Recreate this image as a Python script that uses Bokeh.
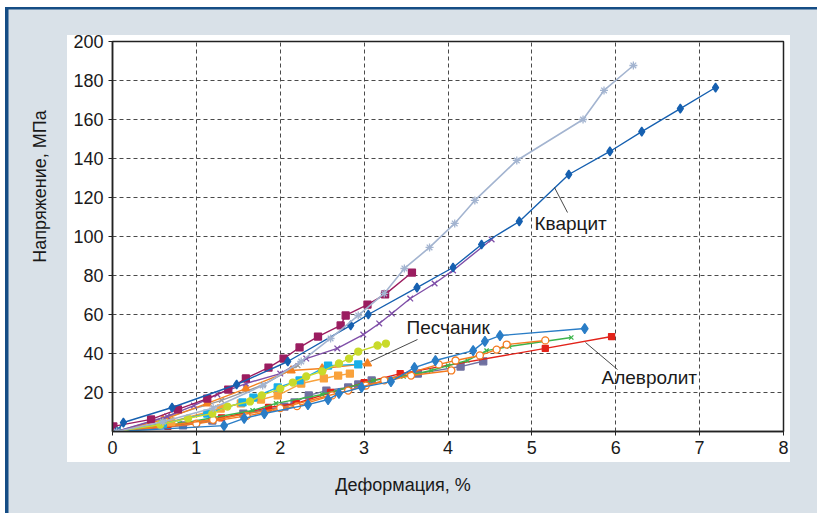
from bokeh.plotting import figure
from bokeh.models import Range1d, FixedTicker, Label
from bokeh.embed import file_html
from bokeh.resources import INLINE

# ---------------- data ----------------
x_ticks = [0, 1, 2, 3, 4, 5, 6, 7, 8]
y_ticks = [20, 40, 60, 80, 100, 120, 140, 160, 180, 200]

# Кварцит (light, asterisks)
kv1_x = [0.05, 0.6, 1.2, 1.79, 2.25, 2.60, 2.93, 3.24, 3.48, 3.78, 4.08, 4.32, 4.82, 5.61, 5.86, 6.21]
kv1_y = [0, 5, 12, 23.6, 35.9, 47.7, 59.5, 70.8, 83.6, 94.4, 106.7, 118.5, 139, 160, 174.9, 187.7]
# Кварцит (dark blue, diamonds)
kv2_x = [0.05, 0.13, 0.71, 1.48, 2.09, 2.84, 3.05, 3.63, 4.06, 4.40, 4.85, 5.44, 5.93, 6.31, 6.77, 7.19]
kv2_y = [0, 4.6, 12.3, 24.1, 35.9, 54.4, 60.0, 73.8, 84.1, 95.9, 107.7, 131.8, 143.6, 153.8, 165.6, 176.4]
# magenta squares
mg_x = [0.01, 0.46, 0.78, 1.13, 1.38, 1.59, 1.86, 2.04, 2.23, 2.45, 2.72, 2.78, 3.04, 3.25, 3.57]
mg_y = [2.6, 6.2, 11.3, 16.9, 21.5, 27.2, 32.8, 37.4, 43.1, 48.7, 54.4, 59.5, 65.1, 70.3, 81.5]
# purple x
pu_x = [0.05, 0.65, 0.97, 1.25, 1.59, 2.0, 2.31, 2.68, 2.99, 3.18, 3.33, 3.55, 3.84, 4.06, 4.52]
pu_y = [0, 7.7, 13.3, 19.0, 24.6, 29.7, 37.4, 42.6, 49.7, 55.4, 60.5, 68.2, 75.9, 82.6, 98.5]
# yellow-green circles
yl_x = [0.05, 0.57, 0.90, 1.19, 1.37, 1.64, 1.78, 2.0, 2.15, 2.31, 2.50, 2.70, 2.82, 2.93, 3.16, 3.26]
yl_y = [0, 3.6, 6.7, 9.2, 12.8, 15.4, 18.5, 22, 25.1, 28.2, 30.8, 34.9, 37.4, 41.0, 44.1, 45.1]
# cyan squares
cy_x = [0.05, 0.6, 1.13, 1.55, 1.68, 1.97, 2.23, 2.57, 2.93]
cy_y = [0, 4, 9.2, 14.9, 17.4, 22.6, 26.2, 33.8, 34.4]
# light orange squares
lo_x = [0.05, 0.7, 1.29, 1.53, 1.77, 1.97, 2.25, 2.52, 2.69, 2.83]
lo_y = [0, 5, 11.8, 14.4, 16.4, 18.5, 24.6, 27.2, 28.7, 29.7]
# orange triangles
ot_x = [0.05, 0.6, 1.13, 1.59, 2.13, 2.5, 3.04]
ot_y = [0, 6, 14.4, 22, 31.3, 32.3, 34.9]
# grey x
gr_x = [0.05, 0.7, 1.3, 1.8, 2.21]
gr_y = [0, 8, 16, 24, 33.8]
# Алевролит group
bl_x = [0.05, 1.33, 1.57, 1.81, 2.33, 2.57, 2.70, 2.97, 3.32, 3.60, 3.85, 4.30, 4.44, 4.62, 5.63]
bl_y = [0, 3.0, 6.7, 9.2, 13.8, 16.4, 19.5, 22.6, 25.6, 32.8, 36.4, 41.5, 46.2, 49.2, 52.8]
oa_x = [0.05, 1.0, 1.6, 2.2, 2.62, 3.02, 3.56, 4.04]
oa_y = [0, 4, 8, 13, 18.5, 23.6, 28.7, 31.3]
ob_x = [0.05, 1.2, 2.0, 2.81, 3.24, 3.89, 4.09, 4.38, 4.58, 4.70, 5.16]
ob_y = [0, 6, 12, 21, 26.2, 34.4, 36.4, 39, 42, 44.6, 46.7]
gn_x = [0.05, 0.8, 1.67, 1.95, 2.5, 3.11, 3.47, 3.80, 4.0, 4.23, 4.46, 4.73, 5.47]
gn_y = [0, 4, 10.8, 14.4, 19, 26.2, 28.2, 31.3, 33.8, 36.4, 41.5, 43.6, 48.2]
rd_x = [0.05, 0.66, 1.3, 1.86, 2.19, 2.60, 3.0, 3.43, 5.16, 5.95]
rd_y = [0, 2.6, 7, 12.3, 14.4, 20, 25, 29.7, 42.6, 48.7]
sl_x = [0.05, 0.84, 1.19, 1.56, 2.05, 2.17, 2.34, 2.55, 2.81, 2.93, 3.09, 3.64, 4.15, 4.42]
sl_y = [0, 3.1, 5.6, 9.2, 12.8, 14.9, 18.5, 21, 22.6, 24.1, 26.2, 29.7, 33.3, 36]

labels_text = ["Кварцит", "Песчаник", "Алевролит"]
x_title = "Деформация, %"
y_title = "Напряжение, МПа"

# ---------------- layout ----------------
W, H = 817, 513
FL, FT, FW, FH = 112, 41, 671, 390
X0, X1, Y0, Y1 = 0, 8, 0, 200
BG = "#d9e1e8"
BORDER = "#154d85"
FONT = "Liberation Sans"
TXT = "#1a1a1a"


def dx(px):  # canvas pixel -> data x
    return X0 + (px - FL) / FW * (X1 - X0)


def dy(py):  # canvas pixel -> data y
    return Y0 + (FT + FH - py) / FH * (Y1 - Y0)


def layer(x, y, w, h, c):
    return f"linear-gradient({c},{c}) {x}px {y}px / {w}px {h}px no-repeat"


panel_css = ", ".join([
    layer(67, 35, 723, 427, "white"),
    layer(5, 7, 3.5, H, BORDER),
    layer(5, 7, W, 2.5, BORDER),
    layer(5, 7, W, H, BG),
]) + ", white"

p = figure(width=W, height=H, output_backend="svg", toolbar_location=None,
           x_range=Range1d(X0, X1), y_range=Range1d(Y0, Y1),
           min_border_left=FL, min_border_top=FT,
           min_border_right=W - FL - FW, min_border_bottom=H - FT - FH)
p.styles = {"background": panel_css}
p.border_fill_alpha = 0
p.background_fill_color = "white"
p.outline_line_color = "#222222"
p.outline_line_width = 1.5

p.xaxis.ticker = FixedTicker(ticks=x_ticks)
p.yaxis.ticker = FixedTicker(ticks=y_ticks)
for ax in (p.xaxis, p.yaxis):
    ax.axis_line_color = "#222222"
    ax.axis_line_width = 1.5
    ax.major_tick_line_color = "#222222"
    ax.major_tick_out = 4
    ax.major_tick_in = 0
    ax.minor_tick_line_color = None
    ax.major_label_text_font = FONT
    ax.major_label_text_font_size = "18px"
    ax.major_label_text_color = TXT
    ax.major_label_standoff = 5
    ax.axis_label_text_font = FONT
    ax.axis_label_text_font_size = "18px"
    ax.axis_label_text_font_style = "normal"
    ax.axis_label_text_color = TXT

NB = "\u00a0"
p.xaxis.axis_label = x_title + NB * 18
p.xaxis.axis_label_standoff = 18
p.yaxis.axis_label = NB * 20 + y_title
p.yaxis.axis_label_standoff = 20

p.grid.grid_line_color = "#4a4a4a"
p.grid.grid_line_dash = "4 3"
p.grid.grid_line_width = 1

LW = 1.4


def series(xs, ys, color, marker, size, fill=None, lw=LW):
    p.line(xs, ys, line_color=color, line_width=lw)
    p.scatter(xs, ys, marker=marker, size=size, line_color=color,
              fill_color=fill if fill else color, line_width=1.3)


series(sl_x, sl_y, "#6f70a0", "square", 7)
series(rd_x, rd_y, "#e2231a", "square", 6)
series(gn_x, gn_y, "#3cb44b", "x", 6)
series(oa_x, oa_y, "#f47b20", "circle", 7, fill="white")
series(ob_x, ob_y, "#f47b20", "circle", 7, fill="white")
series(bl_x, bl_y, "#2a7dc6", "diamond", 10)
series(gr_x, gr_y, "#9a9a9a", "x", 7)
series(lo_x, lo_y, "#f9a23c", "square", 7)
series(ot_x, ot_y, "#f58220", "triangle", 8)
series(cy_x, cy_y, "#19afe8", "square", 7)
series(yl_x, yl_y, "#c9da2a", "circle", 7)
series(pu_x, pu_y, "#7f4fa8", "x", 8)
series(mg_x, mg_y, "#9b1d60", "square", 7)
series(kv2_x, kv2_y, "#1660b0", "diamond", 9)
series(kv1_x, kv1_y, "#a3b4d0", "asterisk", 8, lw=1.6)

# annotations with leader lines (inside the frame)
lab_pos = [(534, 223), (406, 327), (601, 377)]
lead = [((554, 187), (567, 212)), ((417, 339), (370, 361)), ((585, 342), (617, 369))]
for (lx, ly), t in zip(lab_pos, labels_text):
    p.add_layout(Label(x=dx(lx), y=dy(ly), text=t, text_font=FONT, text_font_size="19px",
                       text_color=TXT, text_align="left", text_baseline="middle"))
for (a, b) in lead:
    p.segment(x0=[dx(a[0])], y0=[dy(a[1])], x1=[dx(b[0])], y1=[dy(b[1])],
              line_color="#333333", line_width=0.9)

open("out.html", "w").write(file_html(p, INLINE))
